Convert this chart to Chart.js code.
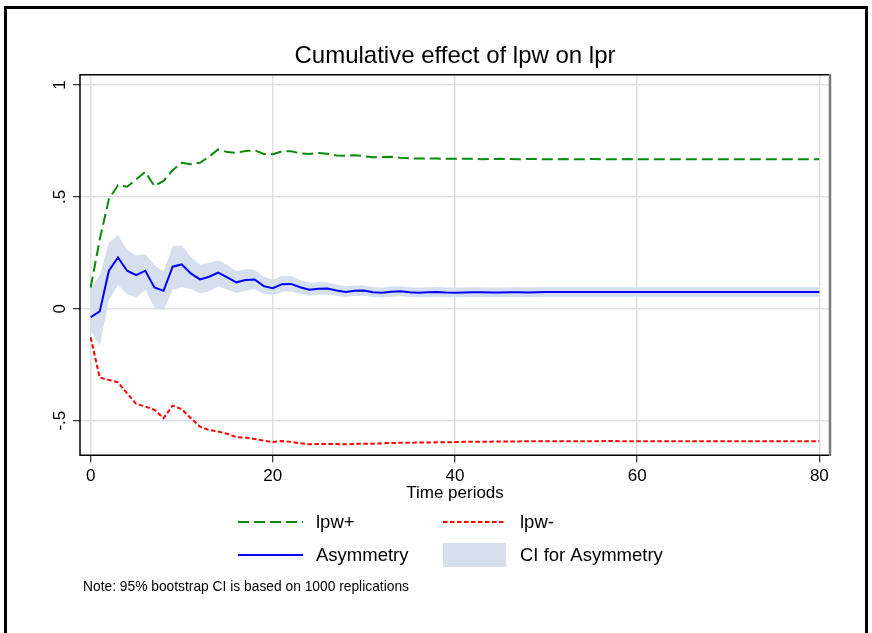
<!DOCTYPE html>
<html><head><meta charset="utf-8">
<script src="https://cdn.jsdelivr.net/npm/chart.js@4.4.0/dist/chart.umd.min.js"></script>
<style>html,body{margin:0;padding:0;background:#fff;} canvas{display:block;}</style>
</head><body>
<canvas id="c" width="872" height="633"></canvas>
<script>
const periods = [0,1,2,3,4,5,6,7,8,9,10,11,12,13,14,15,16,17,18,19,20,21,22,23,24,25,26,27,28,29,30,31,32,33,34,35,36,37,38,39,40,41,42,43,44,45,46,47,48,49,50,51,52,53,54,55,56,57,58,59,60,61,62,63,64,65,66,67,68,69,70,71,72,73,74,75,76,77,78,79,80];
const lpwPlus = [0.095,0.31,0.49,0.552,0.545,0.578,0.612,0.548,0.571,0.619,
 0.652,0.646,0.652,0.680,0.712,0.700,0.697,0.705,0.708,0.692,
 0.691,0.703,0.704,0.695,0.692,0.696,0.693,0.685,0.684,0.686,
 0.682,0.677,0.678,0.679,0.675,0.672,0.672,0.672,0.671,0.670,
 0.670,0.670,0.670,0.668,0.669,0.670,0.669,0.668,0.669,0.669,
 0.668,0.668,0.669,0.668,0.668,0.669,0.668,0.668,0.668,0.669,
 0.668,0.668,0.668,0.668,0.668,0.668,0.668,0.668,0.668,0.668,
 0.668,0.668,0.668,0.668,0.668,0.668,0.668,0.668,0.668,0.668,0.668];
const lpwMinus = [-0.128,-0.308,-0.318,-0.329,-0.378,-0.425,-0.437,-0.452,-0.489,-0.433,
 -0.449,-0.489,-0.527,-0.542,-0.549,-0.559,-0.574,-0.576,-0.582,-0.589,
 -0.596,-0.591,-0.595,-0.601,-0.606,-0.605,-0.604,-0.605,-0.606,-0.604,
 -0.603,-0.603,-0.602,-0.600,-0.599,-0.599,-0.598,-0.598,-0.597,-0.597,
 -0.596,-0.595,-0.595,-0.594,-0.594,-0.593,-0.593,-0.593,-0.592,-0.592,
 -0.592,-0.592,-0.592,-0.592,-0.592,-0.592,-0.592,-0.591,-0.592,-0.592,
 -0.592,-0.592,-0.592,-0.592,-0.592,-0.592,-0.592,-0.592,-0.592,-0.592,
 -0.592,-0.592,-0.592,-0.592,-0.592,-0.592,-0.592,-0.592,-0.592,-0.592,-0.592];
const asymmetry = [-0.038,-0.012,0.170,0.229,0.170,0.150,0.170,0.095,0.080,0.188,
 0.198,0.158,0.131,0.143,0.162,0.140,0.118,0.128,0.131,0.101,
 0.092,0.110,0.111,0.096,0.085,0.089,0.090,0.082,0.075,0.080,
 0.081,0.074,0.071,0.076,0.078,0.074,0.072,0.074,0.075,0.073,
 0.072,0.073,0.074,0.074,0.073,0.073,0.074,0.074,0.073,0.074,
 0.075,0.075,0.075,0.075,0.075,0.075,0.075,0.075,0.075,0.075,
 0.075,0.075,0.075,0.075,0.075,0.075,0.075,0.075,0.075,0.075,
 0.075,0.075,0.075,0.075,0.075,0.075,0.075,0.075,0.075,0.075,0.075];
const ciUpper = [0.090,0.150,0.295,0.330,0.262,0.238,0.244,0.195,0.165,0.280,
 0.283,0.232,0.197,0.205,0.217,0.195,0.168,0.176,0.174,0.143,
 0.130,0.146,0.146,0.128,0.116,0.118,0.118,0.108,0.100,0.104,
 0.104,0.097,0.094,0.099,0.100,0.096,0.094,0.096,0.097,0.095,
 0.094,0.095,0.096,0.096,0.095,0.095,0.096,0.096,0.095,0.096,
 0.096,0.096,0.096,0.096,0.096,0.096,0.096,0.096,0.096,0.096,
 0.096,0.096,0.096,0.096,0.096,0.096,0.096,0.096,0.096,0.096,
 0.096,0.096,0.096,0.096,0.096,0.096,0.096,0.096,0.096,0.096,0.096];
const ciLower = [-0.100,-0.165,0.040,0.106,0.066,0.050,0.085,0.005,-0.008,0.085,
 0.096,0.088,0.068,0.078,0.100,0.085,0.070,0.080,0.088,0.066,
 0.060,0.076,0.077,0.066,0.058,0.062,0.064,0.058,0.052,0.057,
 0.058,0.052,0.050,0.054,0.056,0.053,0.051,0.053,0.054,0.052,
 0.051,0.052,0.053,0.053,0.052,0.052,0.053,0.053,0.052,0.053,
 0.054,0.054,0.054,0.054,0.054,0.054,0.054,0.054,0.054,0.054,
 0.054,0.054,0.054,0.054,0.054,0.054,0.054,0.054,0.054,0.054,
 0.054,0.054,0.054,0.054,0.054,0.054,0.054,0.054,0.054,0.054,0.054];
const xTickValues = [0, 20, 40, 60, 80];
const yTickValues = [-0.5, 0, 0.5, 1];
const yTickLabels = ['-.5', '0', '.5', '1'];
const titleText = 'Cumulative effect of lpw on lpr';
const xTitleText = 'Time periods';
const noteText = 'Note: 95% bootstrap CI is based on 1000 replications';

const FONT = "'Liberation Sans', Arial, Helvetica, sans-serif";
const GREEN = '#0a8a0a', RED = '#ff0000', BLUE = '#0000ff', BAND = 'rgb(213,223,238)';
const pts = arr => periods.map((p, i) => ({x: p, y: arr[i]}));

const legendItems = [
  {label: 'lpw+', kind: 'line', color: GREEN, dash: [11, 5], col: 0, row: 0},
  {label: 'lpw-', kind: 'line', color: RED, dash: [4.5, 2.5], col: 1, row: 0},
  {label: 'Asymmetry', kind: 'line', color: BLUE, dash: [], col: 0, row: 1},
  {label: 'CI for Asymmetry', kind: 'box', color: BAND, dash: [], col: 1, row: 1}
];

const framePlugin = {
  id: 'frame',
  beforeDraw(chart) {
    const ctx = chart.ctx;
    ctx.save();
    ctx.fillStyle = '#fff';
    ctx.fillRect(0, 0, chart.width, chart.height);
    ctx.strokeStyle = '#000';
    ctx.lineWidth = 3;
    ctx.strokeRect(5.5, 7.5, 861, 700);
    ctx.restore();
  },
  afterDatasetsDraw(chart) {
    const {ctx, chartArea: a} = chart;
    ctx.save();
    ctx.setLineDash([]);
    ctx.strokeStyle = '#000';
    ctx.lineWidth = 1.5;
    ctx.beginPath();
    ctx.moveTo(a.right, a.top); ctx.lineTo(a.left, a.top); ctx.lineTo(a.left, a.bottom); ctx.lineTo(a.right, a.bottom);
    ctx.stroke();
    ctx.strokeStyle = '#7a7a7a';
    ctx.lineWidth = 2.5;
    ctx.beginPath();
    ctx.moveTo(a.right, a.top - 0.75); ctx.lineTo(a.right, a.bottom + 0.75);
    ctx.stroke();
    ctx.restore();
  },
  afterDraw(chart) {
    const ctx = chart.ctx;
    ctx.save();
    const colLine = [[238, 303], [443, 506]];
    const colText = [316, 520];
    const rowY = [522, 555];
    ctx.font = '18.5px ' + FONT;
    ctx.textBaseline = 'middle';
    ctx.textAlign = 'left';
    legendItems.forEach(it => {
      const [x0, x1] = colLine[it.col];
      const y = rowY[it.row];
      if (it.kind === 'line') {
        ctx.strokeStyle = it.color;
        ctx.lineWidth = 2;
        ctx.setLineDash(it.dash);
        ctx.beginPath(); ctx.moveTo(x0, y); ctx.lineTo(x1, y); ctx.stroke();
        ctx.setLineDash([]);
      } else {
        ctx.fillStyle = it.color;
        ctx.fillRect(x0, y - 12, x1 - x0, 24);
      }
      ctx.fillStyle = '#000';
      ctx.fillText(it.label, colText[it.col], y + 1);
    });
    ctx.font = '13.8px ' + FONT;
    ctx.fillText(noteText, 83, 587);
    ctx.restore();
  }
};

new Chart(document.getElementById('c'), {
  type: 'line',
  data: {
    datasets: [
      {label: 'lpw+', data: pts(lpwPlus), borderColor: GREEN, borderWidth: 2, borderDash: [11, 5], pointRadius: 0, fill: false, order: 1},
      {label: 'lpw-', data: pts(lpwMinus), borderColor: RED, borderWidth: 2, borderDash: [4.5, 2.5], pointRadius: 0, fill: false, order: 1},
      {label: 'Asymmetry', data: pts(asymmetry), borderColor: BLUE, borderWidth: 2, pointRadius: 0, fill: false, order: 0},
      {label: 'CI lower', data: pts(ciLower), borderWidth: 0, borderColor: 'rgba(0,0,0,0)', pointRadius: 0, fill: false, order: 5},
      {label: 'CI for Asymmetry', data: pts(ciUpper), borderWidth: 0, borderColor: 'rgba(0,0,0,0)', backgroundColor: BAND, pointRadius: 0, fill: 3, order: 4}
    ]
  },
  options: {
    responsive: false,
    animation: false,
    devicePixelRatio: 1,
    layout: {padding: {left: 0, right: 42, top: 0, bottom: 129.7}},
    elements: {line: {tension: 0}},
    plugins: {
      legend: {display: false},
      tooltip: {enabled: false},
      title: {display: true, text: titleText, fullSize: false, color: '#000',
        font: {family: FONT, size: 24, weight: 'normal'}, padding: {top: 41.7, bottom: 4.2}}
    },
    scales: {
      x: {
        type: 'linear', min: -1.17, max: 81.17,
        afterBuildTicks: s => { s.ticks = xTickValues.map(v => ({value: v})); },
        afterFit: s => { s.height = 48; },
        grid: {color: '#e0e0e0', lineWidth: 1.5, tickColor: '#000', tickWidth: 1, tickLength: 7},
        border: {display: false},
        ticks: {color: '#000', padding: 3.5, font: {family: FONT, size: 17}, maxRotation: 0, autoSkip: false,
          callback: v => String(v)},
        title: {display: true, text: xTitleText, color: '#000', font: {family: FONT, size: 17}, padding: {top: 0, bottom: 0}}
      },
      y: {
        type: 'linear', min: -0.655, max: 1.046,
        afterBuildTicks: s => { s.ticks = yTickValues.map(v => ({value: v})); },
        afterFit: s => { s.width = 80; },
        grid: {color: '#e0e0e0', lineWidth: 1.5, tickColor: '#000', tickWidth: 1, tickLength: 7},
        border: {display: false},
        ticks: {color: '#000', padding: 2.5, font: {family: FONT, size: 17}, minRotation: 90, maxRotation: 90,
          crossAlign: 'center', autoSkip: false,
          callback: v => yTickLabels[yTickValues.indexOf(v)]}
      }
    }
  },
  plugins: [framePlugin]
});
</script>
</body></html>
